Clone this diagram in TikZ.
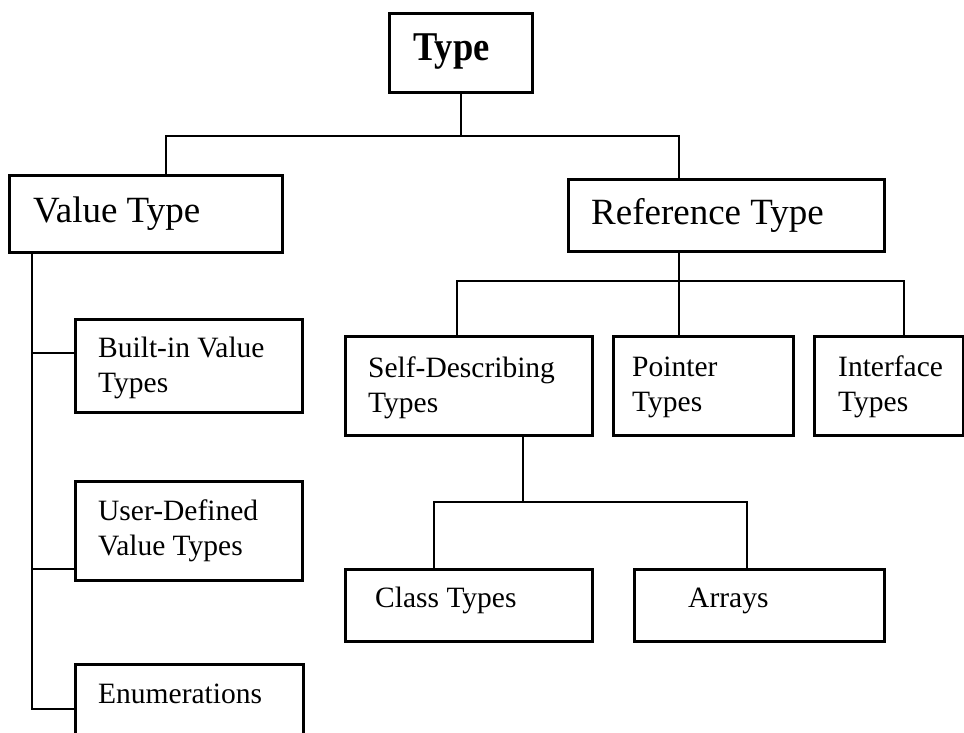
\documentclass[tikz,border=0pt]{standalone}
\usepackage{fontspec}
\usepackage{graphicx}
\setmainfont{Liberation Serif}
\begin{document}
\begin{tikzpicture}[x=1pt,y=-1pt,
  box/.style={draw,line width=3pt,inner sep=0pt,anchor=north west},
  conn/.style={line width=2.2pt},
  big/.style={font=\fontsize{37}{44}\selectfont, anchor=base west, inner sep=0pt},
  bigb/.style={font=\fontsize{36.5}{44}\selectfont\bfseries, anchor=base west, inner sep=0pt},
  small/.style={font=\fontsize{29.5}{35}\selectfont, anchor=base west, inner sep=0pt, align=left}
]
\fill[white] (0,0) rectangle (964,733);
\useasboundingbox (0,0) rectangle (964,733);

% boxes
\node[box, minimum width=143pt, minimum height=79pt] (type) at (388,12) {};
\node[box, minimum width=273pt, minimum height=77pt] (value) at (8,174) {};
\node[box, minimum width=316pt, minimum height=72pt] (ref) at (567,178) {};
\node[box, minimum width=227pt, minimum height=93pt] (builtin) at (74,318) {};
\node[box, minimum width=227pt, minimum height=99pt] (userdef) at (74,480) {};
\node[box, minimum width=228pt, minimum height=110pt] (enum) at (74,663) {};
\node[box, minimum width=247pt, minimum height=99pt] (selfdesc) at (344,335) {};
\node[box, minimum width=180pt, minimum height=99pt] (pointer) at (612,335) {};
\node[box, minimum width=149pt, minimum height=99pt] (interface) at (813,335) {};
\node[box, minimum width=247pt, minimum height=72pt] (class) at (344,568) {};
\node[box, minimum width=250pt, minimum height=72pt] (arrays) at (633,568) {};

% texts (base = baseline of the last line)
\node[bigb] (typet) at (413,61) {\scalebox{1}[1.12]{Type}};
\node[big] (valuet) at (33,222) {Value Type};
\node[big] (reft) at (591,224) {Reference Type};
\node[small] (builtint) at (98,392) {Built-in Value\\Types};
\node[small] (usert) at (98,555) {User-Defined\\Value Types};
\node[small] (enumt) at (98,703) {Enumerations};
\node[small] (selft) at (368,412) {Self-Describing\\Types};
\node[small] (pointert) at (632,411) {Pointer\\Types};
\node[small] (intert) at (838,411) {Interface\\Types};
\node[small] (classt) at (375,607) {Class Types};
\node[small] (arrayst) at (688,607) {Arrays};

% connectors: top level
\coordinate (hbL) at (166,136);
\coordinate (hbR) at (679,136);
\draw[conn] (type.south) -- (type.south |- hbL);
\draw[conn] (hbL |- value.north) -- (hbL) -- (hbR) -- (hbR |- ref.north);

% reference subtree
\coordinate (rL) at (457,281);
\coordinate (rR) at (904,281);
\coordinate (rM) at (679,281);
\draw[conn] (rM |- ref.south) -- (rM);
\draw[conn] (rL |- selfdesc.north) -- (rL) -- (rR) -- (rR |- interface.north);
\draw[conn] (rM) -- (rM |- pointer.north);

% self-describing subtree
\coordinate (sL) at (434,502);
\coordinate (sR) at (747,502);
\coordinate (sM) at (523,502);
\draw[conn] (sM |- selfdesc.south) -- (sM);
\draw[conn] (sL |- class.north) -- (sL) -- (sR) -- (sR |- arrays.north);

% value subtree
\coordinate (vb) at (32,353);
\coordinate (vu) at (32,569);
\coordinate (ve) at (32,709);
\draw[conn] (ve |- value.south) -- (ve) -- (ve -| enum.west);
\draw[conn] (vb) -- (vb -| builtin.west);
\draw[conn] (vu) -- (vu -| userdef.west);
\end{tikzpicture}
\end{document}
